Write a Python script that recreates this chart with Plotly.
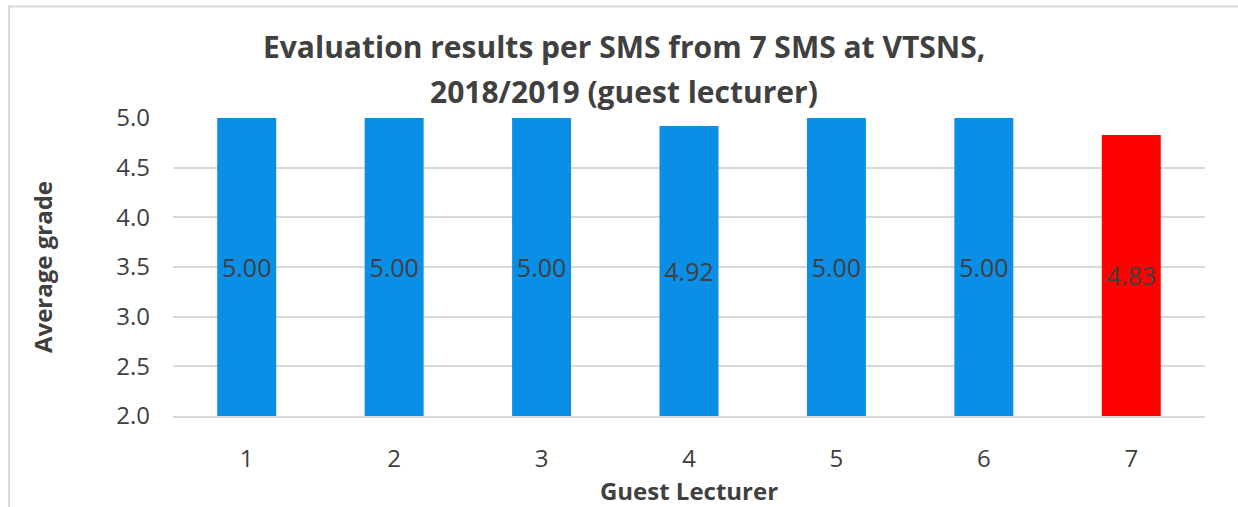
import plotly.graph_objects as go

lecturers = ["1", "2", "3", "4", "5", "6", "7"]
grades = [5.00, 5.00, 5.00, 4.92, 5.00, 5.00, 4.83]
bar_colors = ["#0b8fe6", "#0b8fe6", "#0b8fe6", "#0b8fe6", "#0b8fe6", "#0b8fe6", "#ff0000"]
y_min = 2.0
y_ticks = [2.0, 2.5, 3.0, 3.5, 4.0, 4.5, 5.0]

title_lines = ["Evaluation results per SMS from 7 SMS at VTSNS,", "2018/2019 (guest lecturer)"]
FONT = "Open Sans"
TXT = "#404040"

W, H = 1238, 507
L, R, T, B = 173, 33, 118, 88
pw, ph = W - L - R, H - T - B

fig = go.Figure(go.Bar(
    x=lecturers,
    y=[g - y_min for g in grades],
    base=y_min,
    marker=dict(color=bar_colors, line=dict(width=0)),
    width=0.4,
    text=[f"{g:.2f}" for g in grades],
    textposition="inside",
    insidetextanchor="middle",
    textangle=0,
    textfont=dict(family=FONT, size=25, color=TXT),
    hovertext=[f"{g:.2f}" for g in grades],
    hoverinfo="x+text",
))

fig.update_layout(
    width=W, height=H,
    margin=dict(l=L, r=R, t=T, b=B),
    paper_bgcolor="white", plot_bgcolor="white",
    showlegend=False,
    font=dict(family=FONT, color=TXT),
)
for line, ypix in zip(title_lines, [46, 91]):
    fig.add_annotation(text=line, xref="paper", yref="paper", x=(624 - L) / pw, xanchor="center",
                       y=(H - B - ypix) / ph, yanchor="middle", showarrow=False,
                       font=dict(family=FONT, size=30, color=TXT, weight="bold"))

fig.update_xaxes(
    type="category",
    tickfont=dict(family=FONT, size=24, color=TXT),
    showgrid=False, showline=True, linecolor="#d9d9d9", linewidth=2,
    ticks="", ticklabelstandoff=20,
    title=dict(text="Guest Lecturer", font=dict(family=FONT, size=24, color=TXT, weight="bold"), standoff=4),
)
fig.update_yaxes(
    range=[y_min, 5.0],
    tickvals=y_ticks, ticktext=[f"{v:.1f}" for v in y_ticks],
    tickfont=dict(family=FONT, size=24, color=TXT),
    showgrid=True, gridcolor="#d9d9d9", gridwidth=2,
    zeroline=False, showline=False, ticks="", ticklabelstandoff=22,
    title=dict(text="Average grade", font=dict(family=FONT, size=24, color=TXT, weight="bold"), standoff=56),
)

# chart border (left and top edges visible in the cropped reference)
fig.add_shape(type="rect", xref="paper", yref="paper",
              x0=(9 - L) / pw, x1=(W + 20 - L) / pw,
              y0=(H - B - (H + 20)) / ph, y1=(H - B - 5.5) / ph,
              line=dict(color="#d9d9d9", width=2), fillcolor="rgba(0,0,0,0)", layer="below")

fig.write_html("out.html", config={"displayModeBar": False},
               post_script="document.body.style.margin='0';document.body.style.overflow='hidden';")
